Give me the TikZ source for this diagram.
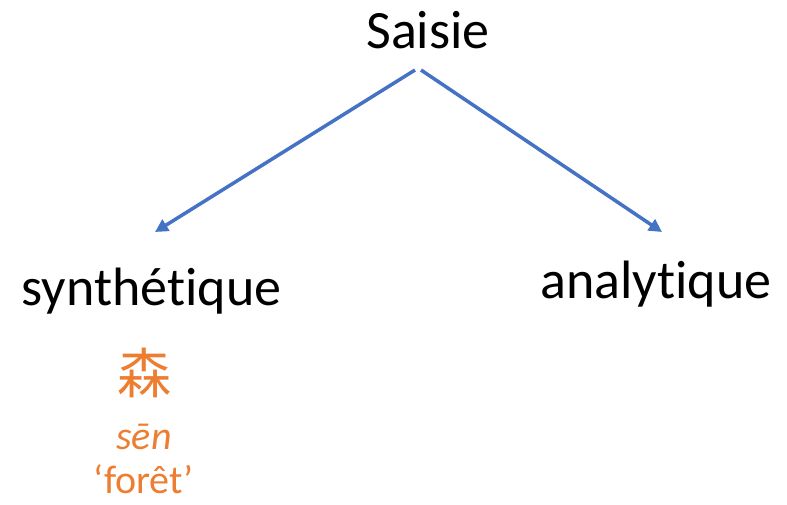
\documentclass[tikz,border=0pt]{standalone}
\usepackage{fontspec}
\setmainfont[Ligatures=CommonOff]{Carlito}
\newfontfamily\cjk{Noto Sans CJK SC}
\usetikzlibrary{arrows.meta}
\definecolor{offblue}{HTML}{4472C4}
\definecolor{offorange}{HTML}{ED7D31}
\tikzset{
  lbl/.style={inner sep=0pt, anchor=base, font=\fontsize{54}{60}\selectfont},
  ex/.style={inner sep=0pt, anchor=base, text=offorange, font=\fontsize{40}{46}\selectfont},
  arr/.style={draw=offblue, line width=3.5pt, -{Triangle[length=13pt,width=13pt]}}
}
\begin{document}
\begin{tikzpicture}[x=1pt,y=-1pt]
\useasboundingbox (0,0) rectangle (787,504);
\node[lbl] (saisie) at (428,48) {Saisie};
\node[lbl] (synth) at (151.5,305) {synthétique};
\node[lbl] (analyt) at (656,298) {analytique};
\node[ex, font=\fontsize{54}{60}\selectfont] (han) at (144.5,393) {\cjk 森};
\node[ex] (sen) at (144,449) {\itshape sēn};
\node[ex] (foret) at (143.5,493) {‘\kern1pt forêt\kern1pt’};
\coordinate (startL) at (415,70);
\coordinate (startR) at (421,70);
\coordinate (tipL) at (155,232);
\coordinate (tipR) at (662,232);
\draw[arr] (startL) -- (tipL);
\draw[arr] (startR) -- (tipR);
\end{tikzpicture}
\end{document}
